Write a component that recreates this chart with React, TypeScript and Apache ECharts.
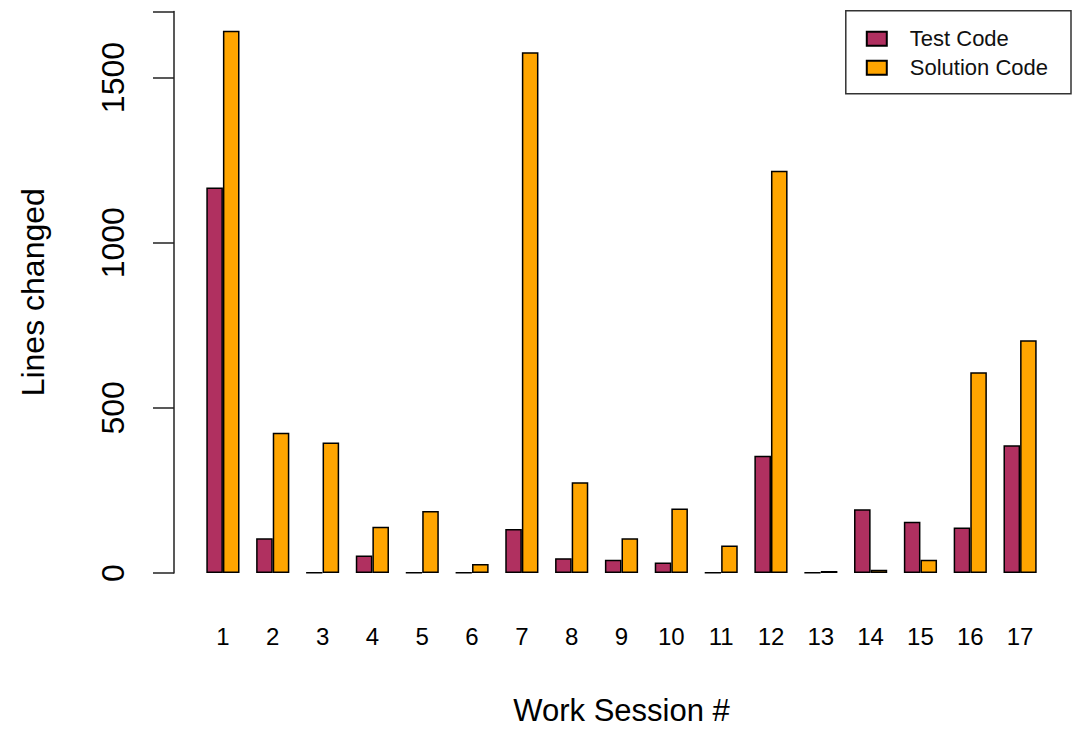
import React, { useEffect, useRef } from "react";
import * as echarts from "echarts";

const sessions = ["1","2","3","4","5","6","7","8","9","10","11","12","13","14","15","16","17"];
const testCode = [1167, 105, 1, 53, 1, 1, 133, 45, 40, 32, 1, 355, 1, 193, 155, 138, 387];
const solutionCode = [1642, 425, 395, 140, 188, 27, 1577, 275, 105, 195, 83, 1218, 6, 10, 40, 608, 705];
const yTickValues = [0, 500, 1000, 1500, 1700];
const yLabelValues = [0, 500, 1000, 1500];

const FONT = "'Liberation Sans', Arial, Helvetica, sans-serif";

export default function App() {
  const ref = useRef<HTMLDivElement>(null);
  useEffect(() => {
    if (!ref.current) return;
    const chart = echarts.init(ref.current, undefined, { renderer: "svg" });
    chart.setOption({
      animation: false,
      backgroundColor: "#ffffff",
      textStyle: { fontFamily: FONT, color: "#000" },
      grid: { left: 198, right: 36, top: 11.5, height: 566.2, containLabel: false },
      legend: {
        orient: "vertical",
        right: 10,
        top: 10.7,
        padding: [17, 23, 15, 20],
        borderColor: "#333",
        borderWidth: 1.5,
        itemWidth: 20,
        itemHeight: 14,
        itemGap: 7,
        icon: "rect",
        textStyle: { fontFamily: FONT, fontSize: 22, color: "#111", padding: [0, 0, 0, 18] },
        data: ["Test Code", "Solution Code"],
      },
      xAxis: {
        type: "category",
        data: sessions,
        boundaryGap: true,
        axisLine: { show: false },
        axisTick: { show: false },
        axisLabel: { fontFamily: FONT, fontSize: 24, color: "#000", margin: 51, interval: 0 },
        name: "Work Session #",
        nameLocation: "middle",
        nameGap: 122,
        nameTextStyle: { fontFamily: FONT, fontSize: 31, color: "#000" },
      },
      yAxis: {
        type: "value",
        min: 0,
        max: 1700,
        interval: 500,
        offset: 24,
        axisLine: { show: true, lineStyle: { color: "#222", width: 1.5 } },
        axisTick: { show: true, length: 21, inside: false, customValues: yTickValues, lineStyle: { color: "#222", width: 1.5 } },
        axisLabel: {
          fontFamily: FONT,
          fontSize: 32,
          color: "#000",
          rotate: 90,
          margin: 45,
          customValues: yLabelValues,
          formatter: (v: number) => String(v),
        },
        splitLine: { show: false },
        name: "Lines changed",
        nameLocation: "middle",
        nameGap: 125,
        nameTextStyle: { fontFamily: FONT, fontSize: 32, color: "#000" },
      },
      series: [
        {
          name: "Test Code",
          type: "bar",
          data: testCode,
          barWidth: 16.6,
          barGap: "0%",
          itemStyle: { color: "#B03060", borderColor: "#000", borderWidth: 1.5 },
        },
        {
          name: "Solution Code",
          type: "bar",
          data: solutionCode,
          barWidth: 16.6,
          barGap: "0%",
          itemStyle: { color: "#FFA500", borderColor: "#000", borderWidth: 1.5 },
        },
      ],
    });
    return () => chart.dispose();
  }, []);
  return (
    <div
      ref={ref}
      style={{ position: "fixed", left: 0, top: 0, width: 1081, height: 731, background: "#fff" }}
    />
  );
}
